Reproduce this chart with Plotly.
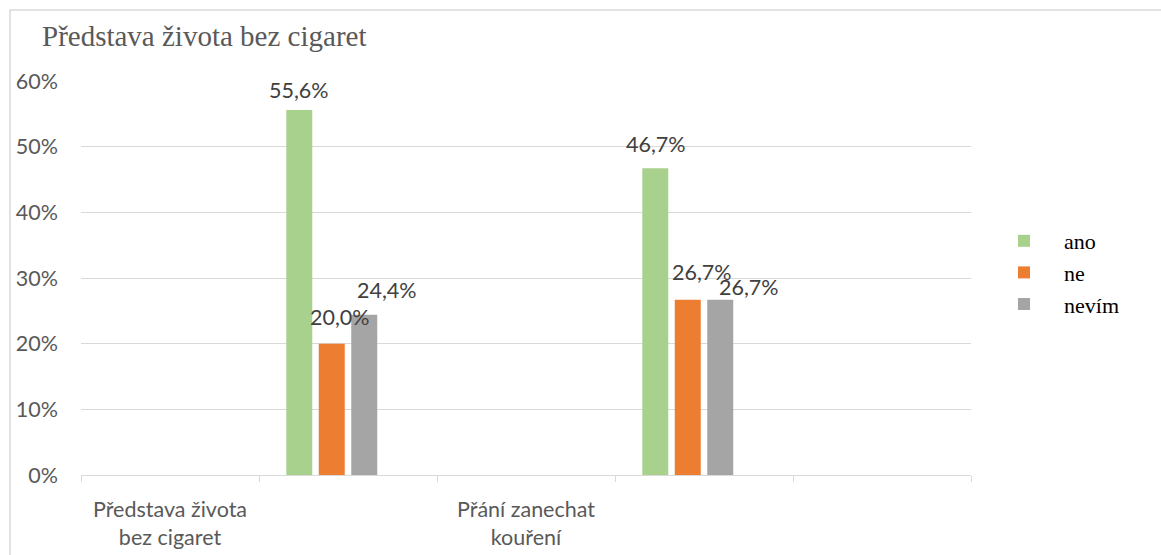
import plotly.graph_objects as go

# Category slots along the x axis (bars sit in the unlabeled slots)
slots = ["Představa života<br>bez cigaret", " ", "Přání zanechat<br>kouření", "  ", "   "]

# Answer shares in percent
ano = [None, 55.6, None, 46.7, None]
ne = [None, 20.0, None, 26.7, None]
nevim = [None, 24.4, None, 26.7, None]
empty_series = [None, None, None, None, None]

series_names = ["ano", "ne", "nevím"]
series_values = [ano, ne, nevim]
series_colors = ["#A9D18E", "#ED7D31", "#A5A5A5"]

# Pixel nudges for the data labels (per series, per slot) to keep them readable
label_dx = [[0, -49, 0, -48, 0], [0, -8, 0, -2, 0], [0, 39, 0, 45, 0]]
label_dy = [[0, 20, 0, 24, 0], [0, 27, 0, 28, 0], [0, 25, 0, 13, 0]]

W, H = 1161, 555
ML, MR, MT, MB = 81, 190, 81, 80
PW, PH = W - ML - MR, H - MT - MB

sans = "Lato, Open Sans, sans-serif"
serif = "Liberation Serif, Times New Roman, serif"
label_font = dict(family=sans, size=21.5, color="#404040")
axis_font = dict(family=sans, size=21.5, color="#595959")

fig = go.Figure()
for name, vals, color in zip(series_names, series_values, series_colors):
    fig.add_trace(go.Bar(x=slots, y=vals, name=name, marker=dict(color=color, line_width=0)))
fig.add_trace(go.Bar(x=slots, y=empty_series, name="", showlegend=False, hoverinfo="skip"))

annotations = []
for s, vals in enumerate(series_values):
    for i, v in enumerate(vals):
        if v is None:
            continue
        annotations.append(dict(
            x=slots[i], y=v, xref="x", yref="y",
            text=f"{v:.1f}".replace(".", ",") + "%",
            showarrow=False, xanchor="center", yanchor="middle",
            xshift=label_dx[s][i], yshift=label_dy[s][i],
            font=label_font,
        ))

annotations.append(dict(
    x=(40 - ML) / PW, y=(H - MB - 36) / PH, xref="paper", yref="paper",
    text="Představa života bez cigaret", showarrow=False,
    xanchor="left", yanchor="middle",
    font=dict(family=serif, size=29, color="#595959"),
))

fig.update_layout(
    width=W, height=H,
    margin=dict(l=ML, r=MR, t=MT, b=MB, autoexpand=False),
    paper_bgcolor="white", plot_bgcolor="white",
    barmode="group", bargap=0.27, bargroupgap=0.2,
    showlegend=True,
    legend=dict(
        x=(984 - ML) / PW, y=(H - MB - 220) / PH, xanchor="left", yanchor="top",
        font=dict(family=serif, size=22, color="#000000"),
        bgcolor="rgba(0,0,0,0)", itemwidth=70, traceorder="normal",
    ),
    annotations=annotations,
    shapes=[dict(
        type="rect", xref="paper", yref="paper",
        x0=(10 - ML) / PW, x1=(W + 20 - ML) / PW,
        y0=(H - MB - H - 20) / PH, y1=(H - MB - 10) / PH,
        line=dict(color="#D9D9D9", width=1.5), fillcolor="rgba(0,0,0,0)", layer="below",
    )],
)

fig.update_xaxes(
    type="category", tickson="boundaries", ticks="outside", ticklen=6,
    tickcolor="#D9D9D9", tickwidth=1,
    showline=True, linecolor="#D9D9D9", linewidth=1,
    showgrid=False, tickfont=axis_font, ticklabelstandoff=15, automargin=False,
)
fig.update_yaxes(
    range=[0, 60], dtick=10, ticksuffix="%",
    showgrid=True, gridcolor="#D9D9D9", gridwidth=1,
    zeroline=False, showline=False, ticks="",
    tickfont=axis_font, ticklabelstandoff=22, automargin=False,
)

fig.write_html("out.html")
